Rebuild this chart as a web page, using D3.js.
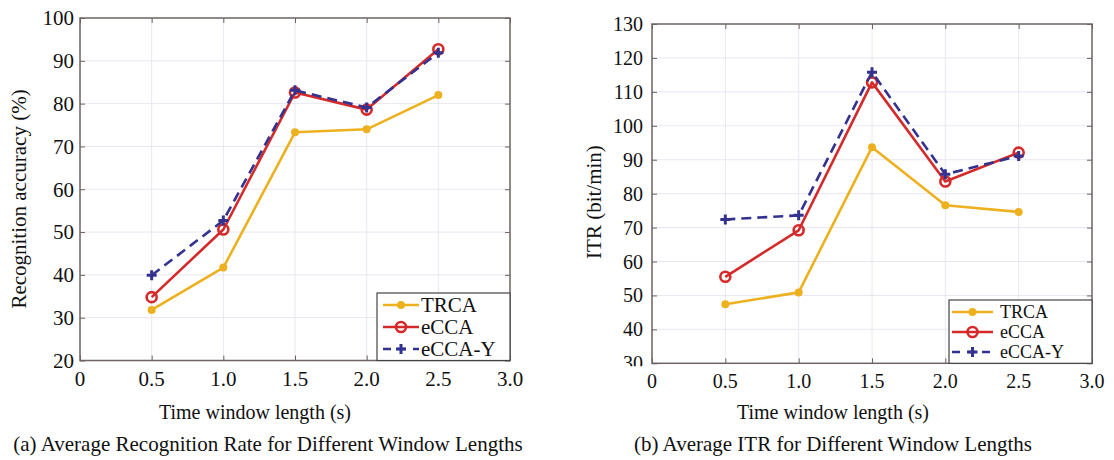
<!DOCTYPE html>
<html>
<head>
<meta charset="utf-8">
<script src="https://cdn.jsdelivr.net/npm/d3@7"></script>
<style>
  body { margin: 0; background: #fff; }
</style>
</head>
<body>
<div id="hook"></div>
<script>
(function () {
    var w = 1114;
    var h = 460;
    var serif = "'Liberation Serif', 'Times New Roman', serif";

    // data
    var windows = [0.5, 1.0, 1.5, 2.0, 2.5];
    var seriesNames = ["TRCA", "eCCA", "eCCA-Y"];
    var accTRCA = [31.8, 41.7, 73.3, 74.0, 82.0];
    var accECCA = [34.8, 50.6, 82.6, 78.6, 92.7];
    var accECCAY = [39.9, 52.7, 83.1, 79.1, 91.9];
    var itrTRCA = [47.4, 50.9, 93.7, 76.6, 74.6];
    var itrECCA = [55.5, 69.2, 112.8, 83.6, 92.1];
    var itrECCAY = [72.4, 73.6, 115.8, 85.7, 91.1];
    var xTicks = [0, 0.5, 1.0, 1.5, 2.0, 2.5, 3.0];
    var accTicks = [20, 30, 40, 50, 60, 70, 80, 90, 100];
    var itrTicks = [30, 40, 50, 60, 70, 80, 90, 100, 110, 120, 130];

    var colors = ["#EDB120", "#D42A2A", "#33338F"];
    var frameColor = "#6e6262";
    var gridColor = "#e9e6f1";

    var svg = d3.select("#hook")
        .append("svg")
        .attr("width", w)
        .attr("height", h)
        .style("font-family", serif);

    function txt(sel, size) {
        return sel.attr("font-family", serif)
            .style("font-family", serif)
            .style("font-size", size + "px")
            .attr("fill", "#111");
    }

    function panel(cfg) {
        var x = d3.scaleLinear().domain([0, 3]).range([cfg.left, cfg.right]);
        var y = d3.scaleLinear().domain(cfg.yDomain).range([cfg.bottom, cfg.top]);
        var g = svg.append("g");

        // grid
        g.selectAll(".vg")
            .data(xTicks.slice(1, -1))
            .enter()
            .append("line")
            .attr("x1", function (d) { return x(d); })
            .attr("x2", function (d) { return x(d); })
            .attr("y1", cfg.top)
            .attr("y2", cfg.bottom)
            .attr("stroke", gridColor);
        g.selectAll(".hg")
            .data(cfg.yTicks.slice(1, -1))
            .enter()
            .append("line")
            .attr("x1", cfg.left)
            .attr("x2", cfg.right)
            .attr("y1", function (d) { return y(d); })
            .attr("y2", function (d) { return y(d); })
            .attr("stroke", gridColor);

        // axes with inward ticks
        var tickLen = 5;
        function clean(s) {
            s.select(".domain").remove();
            s.selectAll("line").attr("stroke", frameColor);
        }
        g.append("g")
            .attr("transform", "translate(0," + cfg.bottom + ")")
            .call(d3.axisBottom(x).tickValues(xTicks).tickSize(-tickLen).tickFormat(""))
            .call(clean);
        g.append("g")
            .attr("transform", "translate(0," + cfg.top + ")")
            .call(d3.axisTop(x).tickValues(xTicks).tickSize(-tickLen).tickFormat(""))
            .call(clean);
        g.append("g")
            .attr("transform", "translate(" + cfg.left + ",0)")
            .call(d3.axisLeft(y).tickValues(cfg.yTicks).tickSize(-tickLen).tickFormat(""))
            .call(clean);
        g.append("g")
            .attr("transform", "translate(" + cfg.right + ",0)")
            .call(d3.axisRight(y).tickValues(cfg.yTicks).tickSize(-tickLen).tickFormat(""))
            .call(clean);

        // tick labels
        txt(g.selectAll(".xl")
            .data(xTicks)
            .enter()
            .append("text")
            .text(function (d) { return d === 0 ? "0" : d3.format(".1f")(d); })
            .attr("text-anchor", "middle")
            .attr("x", function (d) { return x(d); })
            .attr("y", cfg.bottom + 25), cfg.tickFont);

        var clipId = "clip" + cfg.id;
        svg.append("clipPath").attr("id", clipId)
            .append("rect")
            .attr("x", 0).attr("y", 0)
            .attr("width", w).attr("height", cfg.bottom + cfg.labelClip);
        txt(g.append("g").attr("clip-path", "url(#" + clipId + ")")
            .selectAll("text")
            .data(cfg.yTicks)
            .enter()
            .append("text")
            .text(function (d) { return d; })
            .attr("text-anchor", "end")
            .attr("x", cfg.left - cfg.yLabelGap)
            .attr("y", function (d) { return y(d); })
            .attr("dy", "0.35em"), cfg.tickFont);

        // series
        var line = d3.line()
            .x(function (d, i) { return x(windows[i]); })
            .y(function (d) { return y(d); });

        cfg.series.forEach(function (vals, k) {
            g.append("path")
                .datum(vals)
                .attr("d", line)
                .attr("fill", "none")
                .attr("stroke", colors[k])
                .attr("stroke-width", 2.6)
                .attr("stroke-linejoin", "round")
                .attr("stroke-dasharray", k === 2 ? "10,6" : null);
            drawMarkers(g, vals.map(function (v, i) { return [x(windows[i]), y(v)]; }), k);
        });

        // frame
        g.append("rect")
            .attr("x", cfg.left)
            .attr("y", cfg.top)
            .attr("width", cfg.right - cfg.left)
            .attr("height", cfg.bottom - cfg.top)
            .attr("fill", "none")
            .attr("stroke", frameColor)
            .attr("stroke-width", 1.5);

        // legend
        var lg = cfg.legend;
        g.append("rect")
            .attr("x", lg.x)
            .attr("y", lg.y)
            .attr("width", cfg.right - lg.x)
            .attr("height", cfg.bottom - lg.y)
            .attr("fill", "#fff")
            .attr("stroke", "#444")
            .attr("stroke-width", 1.2);
        seriesNames.forEach(function (name, k) {
            var ry = lg.rowY[k];
            g.append("line")
                .attr("x1", lg.lineX[0])
                .attr("x2", lg.lineX[1])
                .attr("y1", ry)
                .attr("y2", ry)
                .attr("stroke", colors[k])
                .attr("stroke-width", 2.6)
                .attr("stroke-dasharray", k === 2 ? "8,7" : null);
            drawMarkers(g, [[(lg.lineX[0] + lg.lineX[1]) / 2, ry]], k);
            txt(g.append("text")
                .text(name)
                .attr("x", lg.textX)
                .attr("y", ry)
                .attr("dy", "0.35em"), lg.font);
        });

        // axis titles
        txt(g.append("text")
            .text(cfg.yTitle)
            .attr("text-anchor", "middle")
            .attr("transform", "translate(" + cfg.yTitleX + "," + cfg.yTitleY + ") rotate(-90)")
            .attr("dy", "0.35em"), 21);
        txt(g.append("text")
            .text("Time window length (s)")
            .attr("text-anchor", "middle")
            .attr("x", cfg.xTitleX)
            .attr("y", 419), 20);
        txt(g.append("text")
            .text(cfg.caption)
            .attr("text-anchor", "middle")
            .attr("x", cfg.captionX)
            .attr("y", 451), cfg.captionFont);
    }

    function drawMarkers(g, pts, k) {
        if (k === 0) {
            g.selectAll(null).data(pts).enter().append("circle")
                .attr("cx", function (d) { return d[0]; })
                .attr("cy", function (d) { return d[1]; })
                .attr("r", 4)
                .attr("fill", colors[0]);
        } else if (k === 1) {
            g.selectAll(null).data(pts).enter().append("circle")
                .attr("cx", function (d) { return d[0]; })
                .attr("cy", function (d) { return d[1]; })
                .attr("r", 5)
                .attr("fill", "none")
                .attr("stroke", colors[1])
                .attr("stroke-width", 2.6);
        } else {
            g.selectAll(null).data(pts).enter().append("path")
                .attr("d", function (d) {
                    return "M" + (d[0] - 5) + "," + d[1] + "H" + (d[0] + 5) +
                        "M" + d[0] + "," + (d[1] - 5) + "V" + (d[1] + 5);
                })
                .attr("stroke", colors[2])
                .attr("stroke-width", 3);
        }
    }

    panel({
        id: "a",
        left: 80, right: 510, top: 18, bottom: 360.5,
        yDomain: [20, 100], yTicks: accTicks,
        tickFont: 21, yLabelGap: 6, labelClip: 20,
        series: [accTRCA, accECCA, accECCAY],
        legend: { x: 377, y: 293, rowY: [305, 327, 349], lineX: [383, 419], textX: 421, font: 21 },
        yTitle: "Recognition accuracy (%)", yTitleX: 19, yTitleY: 199,
        xTitleX: 255,
        caption: "(a) Average Recognition Rate for Different Window Lengths", captionX: 268, captionFont: 21
    });

    panel({
        id: "b",
        left: 652, right: 1092, top: 24, bottom: 363.3,
        yDomain: [30, 130], yTicks: itrTicks,
        tickFont: 20, yLabelGap: 9, labelClip: 3,
        series: [itrTRCA, itrECCA, itrECCAY],
        legend: { x: 949, y: 300, rowY: [312, 332, 352], lineX: [952, 993], textX: 1000, font: 18 },
        yTitle: "ITR (bit/min)", yTitleX: 594, yTitleY: 202,
        xTitleX: 833,
        caption: "(b) Average ITR for Different Window Lengths", captionX: 833, captionFont: 21
    });
})();
</script>
</body>
</html>
